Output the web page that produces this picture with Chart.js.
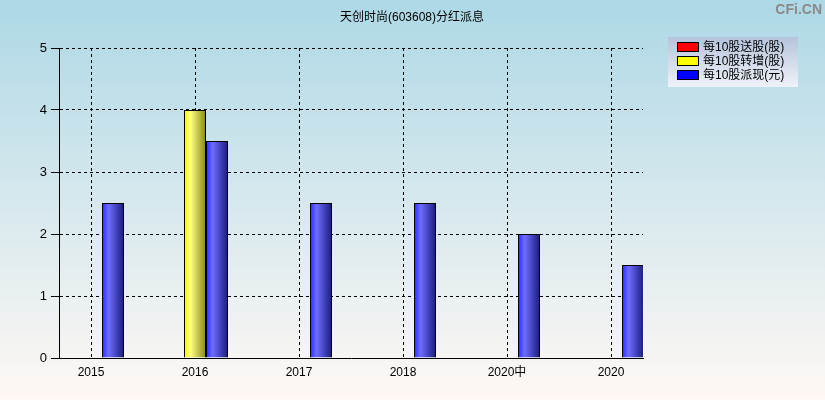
<!DOCTYPE html>
<html>
<head>
<meta charset="utf-8">
<script src="https://cdn.jsdelivr.net/npm/chart.js@4/dist/chart.umd.min.js"></script>
<style>
  html, body { margin: 0; padding: 0; }
  #wrap { width: 825px; height: 400px; position: relative; }
</style>
</head>
<body>
<div id="wrap"><canvas id="chart" width="825" height="400"></canvas></div>
<script>
// data
const title = "天创时尚(603608)分红派息";
const years = ["2015", "2016", "2017", "2018", "2020中", "2020"];
const seriesNames = ["每10股送股(股)", "每10股转增(股)", "每10股派现(元)"];
const songGu = [0, 0, 0, 0, 0, 0];
const zhuanZeng = [0, 4, 0, 0, 0, 0];
const paiXian = [2.5, 3.5, 2.5, 2.5, 2, 1.5];
const yTicks = [0, 1, 2, 3, 4, 5];

const FONT = "'Liberation Sans', 'Noto Sans CJK SC', sans-serif";
const swatch = ["#ff0000", "#ffff00", "#0000ff"];
// left / highlight / right shades for the bar gradients
const shades = [
  ["#f02020", "#ff6a6a", "#7a1010"],
  ["#f0f020", "#ffff80", "#86861a"],
  ["#2a2af4", "#6c6cff", "#1a1a80"]
];
const CAT_PCT = 66 / 104;

function toPoints(arr) {
  return arr.map((v, i) => ({ x: i, y: v }));
}

function barFill(dsIndex) {
  return (ctx) => {
    const chart = ctx.chart;
    const xs = chart.scales.x;
    if (!xs || ctx.dataIndex === undefined) return swatch[dsIndex];
    const step = xs.getPixelForValue(1) - xs.getPixelForValue(0);
    const w = step * CAT_PCT / 3;
    const cx = xs.getPixelForValue(ctx.dataIndex) + (dsIndex - 1) * w;
    if (!isFinite(cx) || !isFinite(w) || w <= 0) return swatch[dsIndex];
    const g = chart.ctx.createLinearGradient(cx - w / 2, 0, cx + w / 2, 0);
    g.addColorStop(0, shades[dsIndex][0]);
    g.addColorStop(0.3, shades[dsIndex][1]);
    g.addColorStop(1, shades[dsIndex][2]);
    return g;
  };
}

// page background, title, watermark and legend box
const decor = {
  id: "decor",
  beforeDraw(chart) {
    const c = chart.ctx;
    const bg = c.createLinearGradient(0, 0, 0, 400);
    bg.addColorStop(0, "#add8e6");
    bg.addColorStop(1, "#fff8f4");
    c.save();
    c.fillStyle = bg;
    c.fillRect(0, 0, 825, 400);
    c.restore();
  },
  afterDraw(chart) {
    const c = chart.ctx;
    c.save();
    c.fillStyle = "#000";
    c.font = "12px " + FONT;
    c.textAlign = "center";
    c.textBaseline = "middle";
    c.fillText(title, 412, 18);

    c.fillStyle = "#8a8a8a";
    c.font = "bold 14px " + FONT;
    c.textAlign = "right";
    c.fillText("CFi.CN", 822, 10);

    // legend
    const lg = c.createLinearGradient(0, 37, 0, 87);
    lg.addColorStop(0, "#b4c4dc");
    lg.addColorStop(1, "#f0f2f8");
    c.fillStyle = lg;
    c.fillRect(668, 37, 130, 50);
    c.textAlign = "left";
    c.font = "12px " + FONT;
    seriesNames.forEach((name, i) => {
      const y = 47 + i * 14;
      c.fillStyle = swatch[i];
      c.fillRect(677.5, y - 4.5, 21, 9);
      c.strokeStyle = "#000";
      c.lineWidth = 1;
      c.strokeRect(677.5, y - 4.5, 21, 9);
      c.fillStyle = "#000";
      c.fillText(name, 703, y + 0.5);
    });
    c.restore();
  }
};

const sets = [songGu, zhuanZeng, paiXian].map((arr, i) => ({
  label: seriesNames[i],
  data: toPoints(arr),
  backgroundColor: barFill(i),
  borderColor: "#000",
  borderWidth: 1,
  borderSkipped: "bottom",
  categoryPercentage: CAT_PCT,
  barPercentage: 1
}));

new Chart(document.getElementById("chart"), {
  type: "bar",
  data: { datasets: sets },
  options: {
    responsive: false,
    animation: false,
    layout: { padding: { top: 48, right: 182, left: 0, bottom: 0 } },
    plugins: { legend: { display: false }, tooltip: { enabled: false } },
    scales: {
      x: {
        type: "linear",
        offset: false,
        min: -32 / 104,
        max: years.length - 1 + 32 / 104,
        afterBuildTicks(axis) {
          axis.ticks = years.map((_, i) => ({ value: i }));
        },
        afterFit(axis) { axis.height = 42; },
        ticks: {
          callback: (v) => years[v],
          color: "#000",
          font: { family: FONT, size: 12 },
          padding: 2,
          maxRotation: 0
        },
        grid: {
          offset: false,
          color: "#000",
          lineWidth: 1,
          tickLength: 5,
          tickColor: "rgba(0,0,0,0)"
        },
        border: { display: true, color: "#000", width: 1, dash: [3, 3] }
      },
      y: {
        min: 0,
        max: 5,
        afterBuildTicks(axis) {
          axis.ticks = yTicks.map((v) => ({ value: v }));
        },
        afterFit(axis) { axis.width = 59; },
        ticks: {
          color: "#000",
          font: { family: FONT, size: 13 },
          padding: 4
        },
        grid: {
          color: "#000",
          lineWidth: 1,
          tickLength: 8,
          tickColor: "#000"
        },
        border: { display: true, color: "#000", width: 1, dash: [3, 3] }
      }
    }
  },
  plugins: [decor]
});
</script>
</body>
</html>
